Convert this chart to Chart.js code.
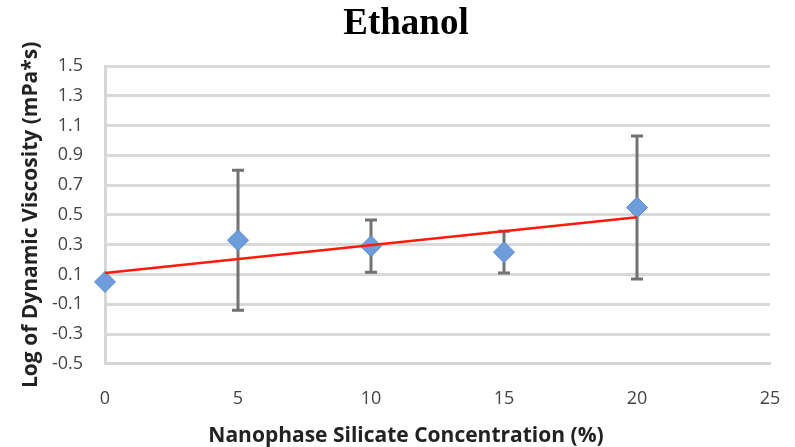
<!DOCTYPE html>
<html>
<head>
<meta charset="utf-8">
<title>Ethanol</title>
<script src="https://cdn.jsdelivr.net/npm/chart.js@4/dist/chart.umd.min.js"></script>
<style>
    html, body { margin: 0; padding: 0; background: #ffffff; }
    #wrap { width: 795px; height: 447px; }
</style>
</head>
<body>
<div id="wrap"><canvas id="ethanolChart" width="795" height="447"></canvas></div>
<script>
// Dati
const concentrations = [0, 5, 10, 15, 20];
const logViscosity = [0.05, 0.33, 0.29, 0.25, 0.55];
const errorSizes = [0, 0.47, 0.175, 0.14, 0.48];
const trendX = [0, 20];
const trendY = [0.11, 0.485];

// Barre d'errore disegnate sotto i marker
const errorBarPlugin = {
    id: 'errorBars',
    beforeDatasetsDraw: function(chart) {
        const yScale = chart.scales.y;
        const meta = chart.getDatasetMeta(1);
        const ctx = chart.ctx;
        ctx.save();
        ctx.strokeStyle = '#727272';
        ctx.lineWidth = 3;
        meta.data.forEach((pt, i) => {
            const err = errorSizes[i];
            if (!err) return;
            const top = yScale.getPixelForValue(logViscosity[i] + err);
            const bottom = yScale.getPixelForValue(logViscosity[i] - err);
            ctx.beginPath();
            ctx.moveTo(pt.x, top);
            ctx.lineTo(pt.x, bottom);
            ctx.moveTo(pt.x - 6, top);
            ctx.lineTo(pt.x + 6, top);
            ctx.moveTo(pt.x - 6, bottom);
            ctx.lineTo(pt.x + 6, bottom);
            ctx.stroke();
        });
        ctx.restore();
    }
};

const EthanolChart = {
    init: function() {
        const ctx = document.getElementById('ethanolChart');
        const tickFont = { family: '"Open Sans"', size: 18 };
        const titleFont = { family: '"Open Sans"', size: 21, weight: 'bold' };

        this.chart = new Chart(ctx, {
            type: 'scatter',
            data: {
                datasets: [{
                    type: 'line',
                    label: 'Trend',
                    data: trendX.map((x, i) => ({ x: x, y: trendY[i] })),
                    borderColor: '#ff1a0a',
                    borderWidth: 2.5,
                    pointRadius: 0,
                    fill: false,
                    clip: false,
                    order: 0
                }, {
                    label: 'Ethanol',
                    data: concentrations.map((x, i) => ({ x: x, y: logViscosity[i] })),
                    pointStyle: 'rectRot',
                    pointRadius: 10.5,
                    backgroundColor: '#6d9edb',
                    borderColor: '#5b8ccc',
                    borderWidth: 1,
                    clip: false,
                    order: 1
                }]
            },
            options: {
                responsive: false,
                animation: false,
                layout: { autoPadding: false, padding: { left: 42, right: 25, top: 0, bottom: 0 } },
                plugins: {
                    legend: { display: false },
                    tooltip: { enabled: false },
                    title: {
                        display: true,
                        text: 'Ethanol',
                        color: '#000000',
                        font: { family: '"Liberation Serif"', size: 37, weight: 'bold' },
                        padding: { top: 2, bottom: 19.6 }
                    },
                    // titolo asse x come sottotitolo in basso
                    subtitle: {
                        display: true,
                        position: 'bottom',
                        text: 'Nanophase Silicate Concentration (%)',
                        color: '#222222',
                        font: titleFont,
                        padding: { top: 0, bottom: -2 }
                    }
                },
                scales: {
                    x: {
                        type: 'linear',
                        min: 0,
                        max: 25,
                        ticks: { stepSize: 5, color: '#444444', font: tickFont, padding: 24 },
                        grid: { display: false, drawTicks: false },
                        border: { display: true, color: '#d6d6d6', width: 3 },
                        afterFit: function(scale) {
                            scale.height = 60;
                            scale.paddingLeft = 0;
                            scale.paddingRight = 0;
                        }
                    },
                    y: {
                        min: -0.5,
                        max: 1.5,
                        ticks: {
                            stepSize: 0.2,
                            color: '#444444',
                            font: tickFont,
                            padding: 22,
                            callback: v => v.toFixed(1)
                        },
                        grid: { color: '#d9d9d9', lineWidth: 3, drawTicks: false },
                        border: { display: true, color: '#d6d6d6', width: 3 },
                        title: {
                            display: true,
                            text: 'Log of Dynamic Viscosity (mPa*s)',
                            color: '#222222',
                            font: titleFont,
                            padding: { top: -23.6, bottom: 0 }
                        },
                        afterFit: function(scale) { scale.width = 63; }
                    }
                }
            },
            plugins: [errorBarPlugin]
        });
    }
};

EthanolChart.init();
</script>
</body>
</html>
